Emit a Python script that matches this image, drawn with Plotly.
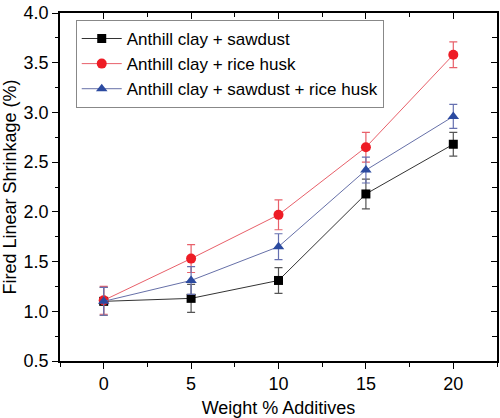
import plotly.graph_objects as go

weight = [0, 5, 10, 15, 20]
sawdust = [1.10, 1.13, 1.31, 2.18, 2.68]
sawdust_err = [0.14, 0.14, 0.13, 0.15, 0.12]
rice_husk = [1.11, 1.53, 1.97, 2.65, 3.58]
rice_husk_err = [0.14, 0.14, 0.15, 0.15, 0.13]
mixed = [1.10, 1.31, 1.65, 2.42, 2.96]
mixed_err = [0.14, 0.14, 0.13, 0.13, 0.12]
names = ["Anthill clay + sawdust", "Anthill clay + rice husk", "Anthill clay + sawdust + rice husk"]
xticks = [0, 5, 10, 15, 20]
yticks = [0.5, 1.0, 1.5, 2.0, 2.5, 3.0, 3.5, 4.0]
ytext = ["0.5", "1.0", "1.5", "2.0", "2.5", "3.0", "3.5", "4.0"]

FONT = "Liberation Sans, Arial, sans-serif"

fig = go.Figure()
series = [
    (sawdust, sawdust_err, "#000000", "#333333", "#555555", "square", 9),
    (rice_husk, rice_husk_err, "#ee1c25", "#e8606a", "#e8606a", "circle", 10),
    (mixed, mixed_err, "#2b4aa0", "#6670a8", "#6670b0", "triangle-up", 10),
]
for (vals, err, mcol, lcol, ecol, sym, size), name in zip(series, names):
    fig.add_trace(go.Scatter(
        x=weight, y=vals, name=name, mode="lines+markers",
        line=dict(color=lcol, width=1),
        marker=dict(symbol=sym, size=size, color=mcol, line=dict(width=0)),
        error_y=dict(type="data", array=err, visible=True, color=ecol, thickness=1.2, width=4),
    ))

# helper trace for mirrored axes
fig.add_trace(go.Scatter(x=[None], y=[None], xaxis="x2", yaxis="y2", showlegend=False, hoverinfo="skip"))

axis_common = dict(showgrid=False, zeroline=False, showline=True, linecolor="black", linewidth=1.5,
                   tickcolor="black", tickwidth=1.2)

fig.update_layout(
    width=500, height=418,
    margin=dict(l=60, r=3, t=7, b=56),
    paper_bgcolor="white", plot_bgcolor="white",
    font=dict(family=FONT, size=18, color="black"),
    showlegend=True,
    legend=dict(x=0.036, y=0.98, xanchor="left", yanchor="top",
                bgcolor="white", bordercolor="#888888", borderwidth=1,
                itemwidth=40,
                font=dict(size=17, family=FONT), tracegroupgap=0),
    xaxis=dict(range=[-2.5, 22.5], tickvals=xticks, ticks="outside", ticklen=6,
               ticklabeloverflow="allow",
               minor=dict(dtick=2.5, tick0=0, ticks="outside", ticklen=4, tickcolor="black"),
               title=dict(text="Weight % Additives", font=dict(size=18), standoff=8),
               **axis_common),
    yaxis=dict(range=[0.5, 4.0], tickvals=yticks, ticktext=ytext, ticks="outside", ticklen=6,
               ticklabeloverflow="allow",
               minor=dict(dtick=0.25, tick0=0.5, ticks="outside", ticklen=3, tickcolor="black"),
               title=dict(text="Fired Linear Shrinkage (%)", font=dict(size=18), standoff=6),
               **axis_common),
    xaxis2=dict(overlaying="x", side="top", range=[-2.5, 22.5], tickvals=xticks, ticks="inside", ticklen=6,
                showticklabels=False,
                minor=dict(dtick=2.5, tick0=0, ticks="inside", ticklen=4, tickcolor="black"),
                **axis_common),
    yaxis2=dict(overlaying="y", side="right", range=[0.5, 4.0], tickvals=yticks, ticks="inside", ticklen=6,
                showticklabels=False,
                minor=dict(dtick=0.25, tick0=0.5, ticks="inside", ticklen=5, tickcolor="black"),
                **axis_common),
)

fig.write_html("out.html", config={"displayModeBar": False},
               post_script="document.body.style.margin='0';document.body.style.overflow='hidden';")
